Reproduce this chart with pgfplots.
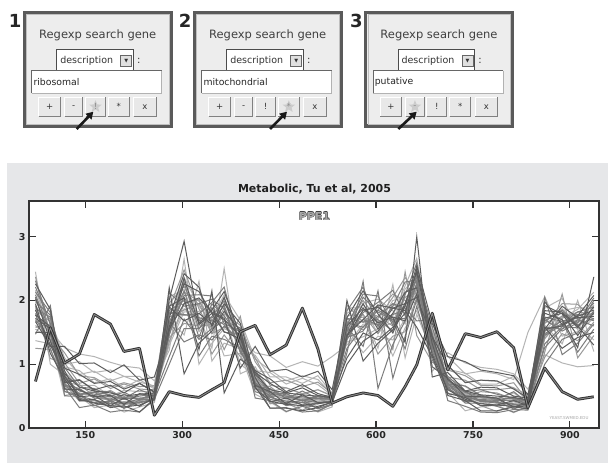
\documentclass[border=0pt]{standalone}
\usepackage{fontspec}
\setmainfont{DejaVu Sans}
\usepackage{pgfplots}
\pgfplotsset{compat=1.18}
\usepackage{pgfplotstable}
\usetikzlibrary{arrows.meta,shapes.geometric}

\definecolor{panelbg}{HTML}{E6E7E9}
\definecolor{uibg}{HTML}{EDEDED}
\definecolor{uiborder}{HTML}{5A5A5A}
\definecolor{gLight}{HTML}{B4B4B4}
\definecolor{gMidL}{HTML}{999999}
\definecolor{gMid}{HTML}{7C7C7C}
\definecolor{gDark}{HTML}{5C5C5C}
\definecolor{bOut}{HTML}{303030}
\definecolor{bIn}{HTML}{8C8C8C}

\pgfplotstableread{
x g1 g2 g3 g4 g5 g6 g7 g8 g9 g10 g11 g12 g13 g14 g15 g16 g17 g18 g19 g20 g21 g22 g23 g24 h1 h2 h3 h4 h5 h6 h7 h8 b
73 2.13 1.61 1.95 2.31 1.80 1.47 2.05 1.87 2.45 1.72 2.21 1.25 1.98 2.09 1.55 2.26 1.91 1.77 2.37 1.37 2.02 1.84 1.67 2.16 1.70 1.92 1.58 1.85 2.02 1.66 1.78 1.50 0.73
96 1.81 1.42 1.17 1.62 1.48 1.92 1.36 1.74 1.00 1.56 1.64 1.23 1.77 1.51 1.40 1.86 1.09 1.59 1.45 1.32 1.70 1.67 1.28 1.53 1.38 1.55 1.62 1.30 1.47 1.72 1.25 1.50 1.57
118 0.64 0.50 0.77 0.57 0.69 0.51 0.81 0.67 0.83 0.61 0.83 0.71 0.95 0.73 0.88 0.71 1.02 0.94 1.18 0.96 1.10 1.00 1.28 1.26 0.70 0.62 0.78 0.85 0.58 0.74 0.66 0.90 1.02
141 0.32 0.49 0.43 0.52 0.42 0.54 0.49 0.62 0.52 0.60 0.52 0.68 0.64 0.76 0.67 0.75 0.70 0.84 0.82 0.90 0.84 1.04 1.01 1.16 0.50 0.55 0.58 0.64 0.47 0.60 0.53 0.45 1.16
164 0.36 0.32 0.45 0.35 0.43 0.35 0.51 0.47 0.59 0.49 0.56 0.50 0.62 0.58 0.67 0.60 0.77 0.70 0.79 0.71 0.89 0.87 1.02 1.12 0.44 0.50 0.53 0.58 0.40 0.47 0.56 0.39 1.78
189 0.25 0.36 0.32 0.44 0.34 0.41 0.35 0.47 0.43 0.51 0.43 0.59 0.50 0.57 0.50 0.67 0.62 0.73 0.65 0.77 0.74 0.91 0.87 1.03 0.38 0.45 0.49 0.55 0.42 0.44 0.52 0.35 1.63
210 0.28 0.25 0.35 0.31 0.39 0.31 0.47 0.38 0.45 0.37 0.53 0.47 0.56 0.46 0.59 0.55 0.69 0.61 0.71 0.63 0.81 0.81 0.99 0.97 0.41 0.40 0.46 0.50 0.37 0.48 0.45 0.33 1.20
234 0.25 0.33 0.25 0.41 0.35 0.44 0.34 0.46 0.41 0.54 0.44 0.52 0.44 0.60 0.57 0.70 0.61 0.70 0.65 0.76 0.72 0.81 0.75 0.94 0.39 0.43 0.47 0.53 0.40 0.45 0.50 0.36 1.25
257 0.44 0.40 0.46 0.43 0.50 0.45 0.48 0.44 0.52 0.50 0.56 0.51 0.54 0.51 0.58 0.56 0.60 0.57 0.66 0.61 0.66 0.63 0.80 0.74 0.47 0.50 0.49 0.55 0.46 0.52 0.53 0.45 0.20
280 1.80 1.62 2.20 1.47 1.96 1.00 1.73 1.84 1.30 2.01 1.66 1.52 2.12 1.12 1.77 1.59 1.42 1.91 1.88 1.36 1.70 2.06 1.55 1.22 1.58 1.74 1.45 1.90 1.66 1.35 1.82 1.52 0.57
303 1.77 2.36 0.85 2.08 2.22 1.56 2.42 2.00 1.82 2.93 1.35 2.13 1.91 1.71 2.30 2.26 1.64 2.04 2.48 1.87 1.46 2.17 1.95 2.65 2.05 1.85 2.28 1.68 2.15 1.95 1.78 2.35 0.51
326 1.79 1.91 1.33 2.09 1.72 1.56 2.21 1.13 1.83 1.64 1.46 1.99 1.95 1.39 1.75 2.14 1.60 1.23 1.87 1.68 2.30 1.51 2.04 1.00 1.68 1.95 1.55 1.80 1.42 2.02 1.73 1.62 0.48
346 1.97 1.66 1.52 2.07 1.16 1.75 1.59 1.44 1.89 1.85 1.38 1.69 2.02 1.56 1.25 1.79 1.62 2.15 1.48 1.93 1.05 1.72 1.82 1.33 1.74 1.55 1.88 1.62 1.95 1.48 1.68 1.80 0.60
365 2.21 1.13 1.83 1.64 1.46 1.99 1.95 1.39 1.75 2.14 1.60 1.23 1.87 1.68 2.50 1.51 2.04 0.55 1.79 1.91 1.33 2.09 1.72 1.56 1.62 1.88 1.50 2.05 1.76 1.58 1.92 1.70 0.71
390 1.29 1.17 1.53 1.51 1.12 1.37 1.64 1.26 1.01 1.45 1.32 1.75 1.20 1.57 0.85 1.40 1.48 1.08 1.61 1.35 1.24 1.69 0.94 1.43 1.35 1.22 1.48 1.30 1.40 1.55 1.18 1.44 1.51
413 0.72 0.53 0.65 0.47 0.77 0.63 0.79 0.57 0.79 0.67 0.91 0.69 0.83 0.65 0.96 0.87 1.10 0.90 1.04 0.90 1.14 1.08 1.28 1.18 0.72 0.80 0.66 0.85 0.70 0.76 0.88 0.62 1.61
436 0.31 0.41 0.31 0.43 0.38 0.51 0.41 0.49 0.41 0.57 0.53 0.65 0.55 0.62 0.57 0.70 0.67 0.77 0.71 0.87 0.80 0.91 0.89 1.13 0.48 0.52 0.55 0.60 0.45 0.50 0.57 0.42 1.15
461 0.32 0.25 0.31 0.26 0.39 0.35 0.47 0.37 0.44 0.38 0.50 0.46 0.54 0.46 0.63 0.55 0.63 0.57 0.75 0.69 0.80 0.74 0.92 0.95 0.42 0.46 0.50 0.55 0.40 0.48 0.52 0.37 1.30
486 0.25 0.37 0.27 0.34 0.28 0.40 0.36 0.44 0.36 0.52 0.43 0.50 0.42 0.58 0.53 0.63 0.54 0.68 0.65 0.78 0.70 0.82 0.80 1.04 0.40 0.44 0.47 0.52 0.43 0.45 0.49 0.35 1.88
510 0.27 0.25 0.32 0.26 0.40 0.31 0.38 0.30 0.46 0.40 0.49 0.39 0.51 0.46 0.60 0.51 0.60 0.54 0.72 0.68 0.82 0.76 0.89 0.97 0.38 0.42 0.46 0.50 0.40 0.44 0.47 0.34 1.24
532 0.37 0.33 0.41 0.38 0.41 0.36 0.42 0.38 0.46 0.40 0.44 0.40 0.47 0.45 0.51 0.47 0.50 0.48 0.54 0.51 0.55 0.53 0.60 1.12 0.42 0.45 0.47 0.50 0.43 0.46 0.48 0.40 0.39
555 1.58 1.88 1.46 1.18 1.67 1.52 2.00 1.39 1.80 1.00 1.61 1.70 1.25 1.84 1.55 1.43 1.93 1.10 1.64 1.49 1.35 1.76 1.73 1.30 1.52 1.38 1.65 1.45 1.72 1.58 1.42 1.60 0.49
580 1.28 1.89 1.70 2.30 1.54 2.05 1.05 1.81 1.93 1.36 2.10 1.74 1.59 2.21 1.18 1.85 1.66 1.49 2.00 1.96 1.43 1.78 2.15 1.63 1.70 1.85 1.58 1.95 1.66 1.78 1.52 1.88 0.55
603 2.15 1.48 1.93 0.62 1.72 1.82 1.33 1.97 1.66 1.52 2.07 1.16 1.75 1.59 1.44 1.89 1.85 1.38 1.69 2.02 1.56 1.25 1.79 1.62 1.62 1.75 1.85 1.55 1.70 1.48 1.92 1.65 0.51
626 0.78 1.76 1.88 1.31 2.05 1.69 1.54 2.16 1.13 1.80 1.61 1.44 1.95 1.91 1.38 1.73 2.10 1.58 1.23 1.84 1.65 2.25 1.49 2.00 1.78 1.60 1.70 1.88 1.52 1.95 1.66 1.74 0.34
645 1.44 2.23 1.84 1.68 2.36 1.24 1.96 1.76 1.57 2.13 2.09 1.51 1.88 2.29 1.72 1.34 2.00 1.80 2.45 1.63 2.18 1.10 1.92 2.05 1.85 2.05 1.72 1.95 2.12 1.80 1.90 1.68 0.65
663 2.01 2.66 1.58 2.28 2.09 1.91 2.44 2.40 1.84 2.20 2.59 2.05 1.68 2.32 2.13 3.00 1.96 2.49 1.45 2.24 2.36 1.78 2.54 2.17 2.25 2.12 2.38 2.05 2.30 2.18 2.45 2.10 0.99
687 1.38 1.24 1.12 1.48 1.46 1.07 1.32 1.59 1.21 0.96 1.40 1.27 1.70 1.15 1.52 0.80 1.35 1.43 1.03 1.56 1.30 1.19 1.64 0.89 1.28 1.35 1.20 1.42 1.25 1.32 1.38 1.15 1.80
711 0.43 0.56 0.51 0.64 0.54 0.62 0.54 0.70 0.66 0.78 0.68 0.75 0.69 0.81 0.78 0.87 0.80 0.98 0.91 0.98 0.92 1.12 1.12 1.18 0.68 0.72 0.62 0.76 0.65 0.70 0.74 0.60 0.91
738 0.34 0.27 0.43 0.39 0.51 0.41 0.48 0.42 0.54 0.50 0.58 0.50 0.66 0.57 0.65 0.58 0.75 0.71 0.82 0.72 0.86 0.85 1.04 1.02 0.50 0.55 0.47 0.58 0.49 0.52 0.56 0.45 1.48
762 0.25 0.33 0.27 0.39 0.35 0.43 0.35 0.51 0.42 0.49 0.41 0.57 0.51 0.60 0.51 0.64 0.60 0.75 0.67 0.75 0.69 0.89 0.91 0.95 0.44 0.48 0.45 0.52 0.42 0.47 0.50 0.38 1.42
787 0.24 0.36 0.27 0.34 0.26 0.42 0.36 0.45 0.35 0.47 0.42 0.55 0.45 0.53 0.46 0.63 0.60 0.74 0.66 0.73 0.69 0.85 0.87 0.92 0.40 0.45 0.43 0.50 0.39 0.44 0.47 0.36 1.51
813 0.29 0.24 0.33 0.25 0.35 0.30 0.43 0.33 0.41 0.33 0.49 0.45 0.57 0.47 0.55 0.50 0.63 0.61 0.71 0.63 0.81 0.76 0.82 0.85 0.38 0.42 0.44 0.48 0.37 0.43 0.46 0.34 1.26
835 0.28 0.35 0.30 0.33 0.29 0.37 0.35 0.41 0.35 0.39 0.35 0.41 0.39 0.43 0.39 0.47 0.43 0.47 0.42 0.52 0.49 1.50 0.52 0.61 0.36 0.40 0.38 0.44 0.35 0.41 0.42 0.33 0.32
861 1.32 1.61 1.92 1.48 1.19 1.70 1.55 2.05 1.41 1.84 1.00 1.64 1.74 1.26 1.88 1.58 1.45 1.98 1.11 1.67 1.51 2.06 1.80 1.15 1.52 1.65 1.45 1.72 1.58 1.40 1.68 1.55 0.94
888 1.59 1.32 1.79 1.64 2.10 1.52 1.91 1.15 1.73 1.82 1.39 1.95 1.67 1.56 2.03 1.25 1.76 1.62 1.48 1.87 1.84 1.44 1.70 1.02 1.68 1.75 1.62 1.80 1.55 1.72 1.85 1.60 0.57
912 1.57 2.00 1.45 1.82 1.10 1.65 1.73 1.33 1.86 1.60 1.49 1.94 1.19 1.68 1.54 1.42 1.78 1.76 1.37 1.62 1.89 1.51 1.26 0.96 1.72 1.65 1.78 1.58 1.70 1.82 1.62 1.75 0.45
937 2.00 1.20 1.81 1.90 1.45 2.04 1.75 1.63 2.13 1.30 1.84 1.69 1.55 1.96 1.93 1.50 1.78 2.08 1.66 1.38 1.87 1.72 2.37 0.98 1.75 1.82 1.68 1.90 1.60 1.78 1.72 1.85 0.49
}\data

\newcommand{\uipanel}[6]{%
\begin{scope}[shift={(#1pt,0pt)}]
 \fill[uibg] (0,335.3) rectangle (150,452.3);
 \draw[uiborder,line width=3.4pt] (1.7,337) rectangle (148.3,450.6);
 \draw[black!25,line width=0.6pt] (3.8,339.1) rectangle (146.2,448.5);
 \node[font=\fontsize{11.5}{13}\selectfont,text=black!75] at (75,427.5) {Regexp search gene};
 \fill[white] (34,391.3) rectangle (110.6,413.7);
 \draw[black!70,line width=0.9pt] (34,391.3) -- (34,413.7) -- (110.6,413.7) -- (110.6,391.3);
 \draw[black!35,line width=0.6pt] (34,391.3) -- (110.6,391.3);
 \node[font=\fontsize{9.5}{10}\selectfont,text=black!80] at (64,402) {description};
 \fill[black!12] (98,396.5) rectangle (109,408);
 \draw[black!60,line width=0.6pt] (98,396.5) rectangle (109,408);
 \node[font=\fontsize{5}{5}\selectfont,text=black!80,inner sep=0] at (103.5,402.2) {▼};
 \node[font=\fontsize{10}{10}\selectfont,text=black!80] at (116,402) {:};
 \fill[white] (9,369.7) rectangle (139,392.3);
 \draw[black!60,line width=0.8pt] (9,369.7) -- (9,392.3) -- (139,392.3);
 \draw[black!30,line width=0.6pt] (139,392.3) -- (139,369.7) -- (9,369.7);
 \node[anchor=west,inner sep=0,font=\fontsize{9.3}{10}\selectfont,text=black!85] at (10.6,381) {#3};
 \foreach \xa/\xb/\lab/\k in {15.6/38.3/+/1,41.3/60.6/-/2,62.3/83.3/!/3,85/107.3/*/4,110.6/134/x/5}{%
   \fill[black!9] (\xa,346.3) rectangle (\xb,366.3);
   \draw[white,line width=1pt] ({\xa+0.5},347) -- ({\xa+0.5},365.8) -- ({\xb-0.5},365.8);
   \draw[black!50,line width=1pt] ({\xb-0.5},365.8) -- ({\xb-0.5},346.8) -- ({\xa+0.5},346.8);
   \ifnum\k=#4
     \node[star,star points=5,star point ratio=2.3,fill=black!20,minimum size=13pt,inner sep=0pt] at ({(\xa+\xb)/2},356.3) {};
     \node[font=\fontsize{8.5}{9}\selectfont,text=black!45] at ({(\xa+\xb)/2},356.3) {\lab};
   \else
     \node[font=\fontsize{8.5}{9}\selectfont,text=black!80] at ({(\xa+\xb)/2},356.3) {\lab};
   \fi
 }
 \draw[line width=2.6pt,black!90,-{Triangle[length=7pt,width=8pt]}] (#5,334) -- (#6,351.3);
 \node[font=\bfseries\fontsize{18}{18}\selectfont,text=black!85] at (-7.5,442.5) {#2};
\end{scope}}

\begin{document}
\begin{tikzpicture}[x=1pt,y=1pt]
\path[use as bounding box] (0,0) rectangle (609,463);
\fill[white] (0,0) rectangle (609,463);
\fill[panelbg] (7,0) rectangle (608,300);

\uipanel{22.7}{1}{ribosomal}{3}{54}{70.6}
\uipanel{192.7}{2}{mitochondrial}{4}{77.3}{94.3}
\uipanel{364}{3}{putative}{2}{34.3}{52.7}

\begin{axis}[
  at={(29pt,35pt)}, anchor=south west,
  scale only axis, width=570pt, height=227pt,
  xmin=63, xmax=945, ymin=0, ymax=3.56,
  xtick={150,300,450,600,750,900}, ytick={0,1,2,3},
  xticklabel pos=lower, yticklabel pos=left,
  xtick pos=both, ytick pos=both,
  tick align=inside, major tick length=7pt,
  tick style={black!80, line width=1.1pt},
  axis line style={black!80, line width=1.3pt},
  axis background/.style={fill=white},
  /pgf/number format/assume math mode=true,
  ticklabel style={font=\bfseries\fontsize{9.5}{10}\selectfont, text=black!85},
]
\pgfplotsinvokeforeach{2,9,15,20,21,22,24}{\addplot[gLight, line width=1pt] table[x=x, y=g#1]{\data};}
\pgfplotsinvokeforeach{5,12,17,19}{\addplot[gMidL, line width=1pt] table[x=x, y=g#1]{\data};}
\pgfplotsinvokeforeach{2,6}{\addplot[gMidL, line width=1pt] table[x=x, y=h#1]{\data};}
\pgfplotsinvokeforeach{1,4,6,8,11,13,14}{\addplot[gMid, line width=1pt] table[x=x, y=g#1]{\data};}
\pgfplotsinvokeforeach{1,3,5,7}{\addplot[gMid, line width=1pt] table[x=x, y=h#1]{\data};}
\pgfplotsinvokeforeach{3,7,10,16,18,23}{\addplot[gDark, line width=1pt] table[x=x, y=g#1]{\data};}
\pgfplotsinvokeforeach{4,8}{\addplot[gDark, line width=1pt] table[x=x, y=h#1]{\data};}
\addplot[bOut, line width=2.8pt, line join=round] table[x=x, y=b]{\data};
\addplot[bIn, line width=0.9pt, line join=round] table[x=x, y=b]{\data};
\end{axis}

\node[font=\bfseries\fontsize{11}{12}\selectfont, text=black!88] at (314.5,274) {Metabolic, Tu et al, 2005};
\node[font=\bfseries\fontsize{11}{12}\selectfont, text=black!35] at (314.5,247) {\makebox[0pt]{\hspace*{-0.6pt}\color{black!75}PPE1}\makebox[0pt]{\hspace*{0.6pt}\color{black!75}PPE1}\makebox[0pt]{\raisebox{0.6pt}{\color{black!75}PPE1}}\makebox[0pt]{\raisebox{-0.6pt}{\color{black!75}PPE1}}\makebox[0pt]{PPE1}};
\node[font=\fontsize{4}{4}\selectfont, text=black!35] at (569,45) {YEAST.SWMED.EDU};
\end{tikzpicture}
\end{document}
